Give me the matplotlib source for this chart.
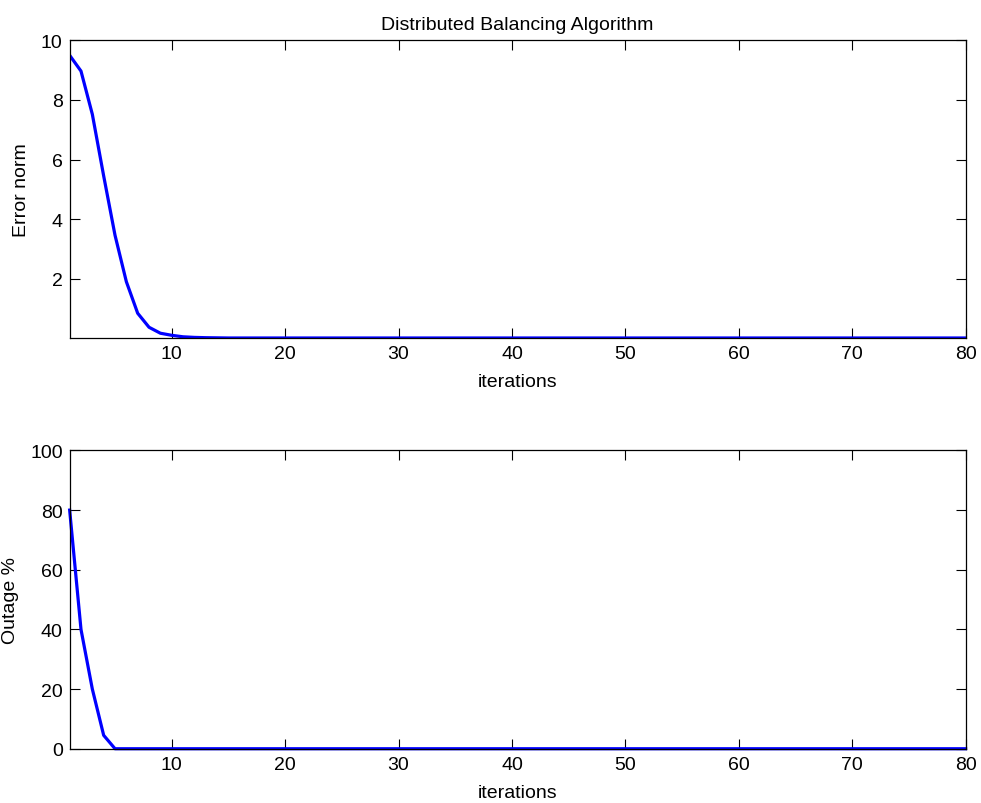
import matplotlib.pyplot as plt

plt.rcParams['font.family'] = ['Liberation Sans', 'DejaVu Sans']

iters = list(range(1, 81))
err_head = [9.5, 8.97, 7.52, 5.45, 3.46, 1.9, 0.84, 0.37, 0.17, 0.1,
            0.05, 0.03, 0.02, 0.015]
err_norm = err_head + [0.01] * (80 - len(err_head))
outage_head = [80, 40, 20, 4.5]
outage = outage_head + [0] * (80 - len(outage_head))

fig = plt.figure(figsize=(9.81, 8.04), dpi=100)
ax1 = fig.add_axes([0.0710, 0.578, 0.9133, 0.3705])
ax2 = fig.add_axes([0.0710, 0.0675, 0.9133, 0.3710])

for ax in (ax1, ax2):
    ax.tick_params(direction='in', length=7, width=0.8, labelsize=14,
                   top=True, right=True, pad=5)
    ax.set_xlim(1, 80)
    ax.set_xticks([10, 20, 30, 40, 50, 60, 70, 80])
    ax.set_xlabel("iterations", fontsize=14, labelpad=8)
    for s in ax.spines.values():
        s.set_linewidth(0.9)

ax1.plot(iters, err_norm, c='#0000FF', lw=2.3)
ax1.set_ylim(0, 10)
ax1.set_yticks([2, 4, 6, 8, 10])
ax1.set_ylabel("Error norm", fontsize=14, labelpad=8)
ax1.set_title("Distributed Balancing Algorithm", fontsize=14, pad=8)

ax2.plot(iters, outage, c='#0000FF', lw=2.3, clip_on=False)
ax2.set_ylim(0, 100)
ax2.set_yticks([0, 20, 40, 60, 80, 100])
ax2.set_ylabel("Outage %", fontsize=14, labelpad=8)

fig.savefig("out.png", dpi=100)
